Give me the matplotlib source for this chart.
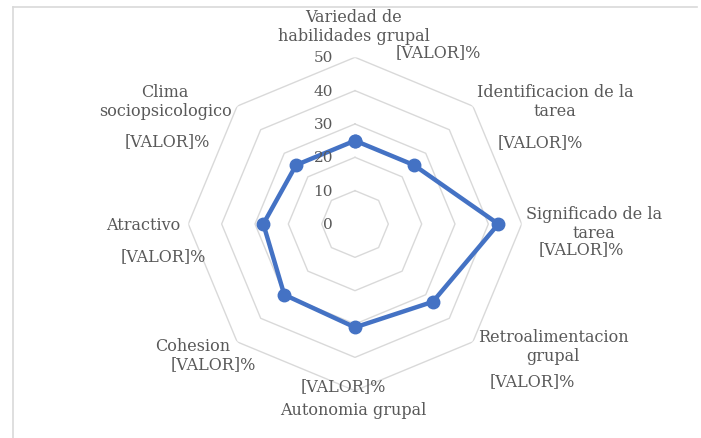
import numpy as np
import matplotlib
matplotlib.use("Agg")
import matplotlib.pyplot as plt
from matplotlib.lines import Line2D
import matplotlib.transforms as mtransforms

categories = ["Variedad de\nhabilidades grupal", "Identificacion de la\ntarea",
              "Significado de la\ntarea", "Retroalimentacion\ngrupal",
              "Autonomia grupal", "Cohesion", "Atractivo", "Clima\nsociopsicologico"]
values = [25, 25, 43, 33, 31, 30, 27.5, 25]
ticks = [0, 10, 20, 30, 40, 50]
data_label = "[VALOR]%"

W, H = 701, 439
fig = plt.figure(figsize=(W / 100, H / 100), dpi=100)
fig.patch.set_facecolor("white")

cx, cy, R = 355, 225, 166.7
ax = fig.add_axes([(cx - R) / W, (H - cy - R) / H, 2 * R / W, 2 * R / H], projection="polar")
ax.set_theta_zero_location("N")
ax.set_theta_direction(-1)
ax.set_ylim(0, 50)
ax.axis("off")

n = len(categories)
theta = np.arange(n) * 2 * np.pi / n
th_closed = np.append(theta, theta[0])

grid_col = "#d9d9d9"
for t in ticks[1:]:
    ax.plot(th_closed, [t] * (n + 1), color=grid_col, lw=1.0, zorder=1)

vals_closed = values + [values[0]]
ax.plot(th_closed, vals_closed, color="#4472C4", lw=3.2, zorder=3,
        marker="o", markersize=9, markerfacecolor="#4472C4", markeredgecolor="#4472C4")

txt_col = "#595959"
serif = "DejaVu Serif"
off = mtransforms.offset_copy(ax.transData, fig=fig, x=-22, y=0, units="dots")
for t in ticks:
    ax.text(0, t, str(t), transform=off, ha="right", va="center", fontsize=11,
            color=txt_col, family=serif)

def px(x, y):
    return x / W, 1 - y / H

# category labels (pixel centers)
cat_pos = [(354, 27), (555, 102), (594, 224), (553, 347), (353, 411), (193, 347), (143, 225), (165, 102)]
for lab, (x, y) in zip(categories, cat_pos):
    fig.text(*px(x, y), lab, ha="center", va="center", fontsize=11.5, color=txt_col,
             family=serif, linespacing=1.15)

val_pos = [(438, 53), (540, 143), (581, 250), (532, 382), (343, 387), (213, 365), (163, 257), (167, 142)]
for (x, y) in val_pos:
    fig.text(*px(x, y), data_label, ha="center", va="center", fontsize=11.5, color=txt_col,
             family=serif)

# chart border (top and left edges visible)
fig.add_artist(Line2D([12.5 / W, 697 / W], [1 - 7.5 / H, 1 - 7.5 / H], transform=fig.transFigure,
                      color="#d9d9d9", lw=1.2))
fig.add_artist(Line2D([12.5 / W, 12.5 / W], [1 - 7.5 / H, 0], transform=fig.transFigure,
                      color="#d9d9d9", lw=1.2))

fig.savefig("out.png", dpi=100, facecolor="white")
